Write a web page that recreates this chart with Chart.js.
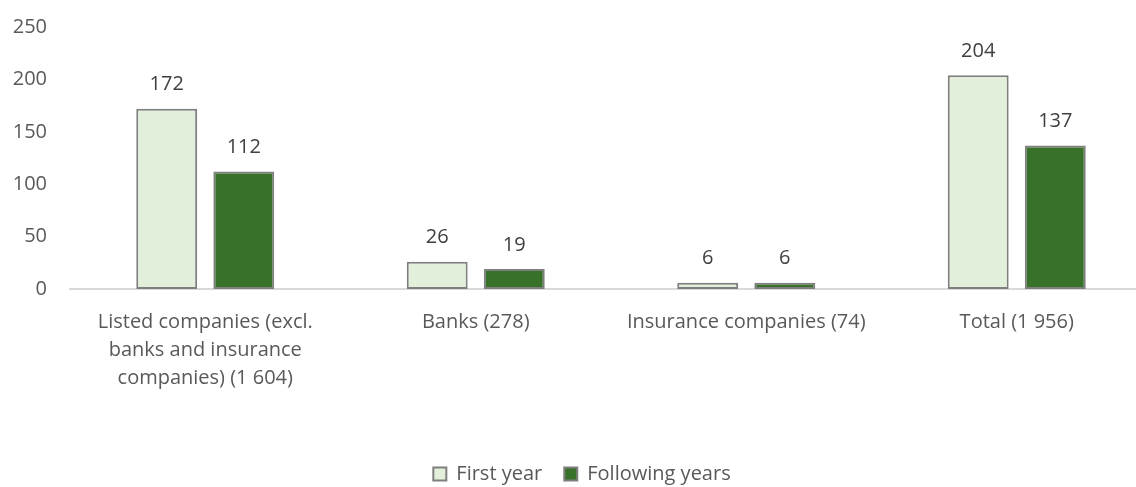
<!DOCTYPE html>
<html>
<head>
<meta charset="utf-8">
<script src="https://cdn.jsdelivr.net/npm/chart.js@4.4.1/dist/chart.umd.min.js"></script>
<style>
  html, body { margin: 0; padding: 0; background: #fff; overflow: hidden; }
  #wrap { width: 1152px; height: 494px; }
</style>
</head>
<body>
<div id="wrap"><canvas id="chart"></canvas></div>
<script>
// categories and values
var categories = [
  ["Listed companies (excl.", "banks and insurance", "companies) (1 604)"],
  "Banks (278)",
  "Insurance companies (74)",
  "Total (1 956)"
];
var firstYear = [172, 26, 6, 204];
var followingYears = [112, 19, 6, 137];
var yTicks = [0, 50, 100, 150, 200, 250];

var FONT = "'Open Sans', sans-serif";

// value labels above each bar
var barValues = {
  id: 'barValues',
  afterDatasetsDraw: function (chart) {
    var ctx = chart.ctx;
    ctx.save();
    ctx.font = '20px ' + FONT;
    ctx.fillStyle = '#404040';
    ctx.textAlign = 'center';
    ctx.textBaseline = 'middle';
    chart.data.datasets.forEach(function (ds, i) {
      chart.getDatasetMeta(i).data.forEach(function (bar, j) {
        ctx.fillText(ds.data[j], bar.x, bar.y - 24);
      });
    });
    ctx.restore();
  }
};

new Chart(document.getElementById('chart'), {
  type: 'bar',
  data: {
    labels: categories,
    datasets: [{
      label: 'First year',
      data: firstYear,
      backgroundColor: '#E2EFDA',
      borderColor: '#7F7F7F',
      borderWidth: 2,
      borderSkipped: false
    }, {
      label: 'Following years',
      data: followingYears,
      backgroundColor: '#38712A',
      borderColor: '#7F7F7F',
      borderWidth: 2,
      borderSkipped: false
    }]
  },
  options: {
    responsive: true,
    maintainAspectRatio: false,
    animation: false,
    layout: { padding: { top: 12, left: 12, right: 0, bottom: 0 } },
    datasets: { bar: { categoryPercentage: 0.57, barPercentage: 0.79 } },
    scales: {
      x: {
        grid: { display: false },
        border: { display: true, color: '#D9D9D9', width: 2 },
        ticks: {
          color: '#595959',
          font: { family: FONT, size: 20, lineHeight: 1.4 },
          padding: 11,
          maxRotation: 0,
          autoSkip: false
        },
        afterFit: function (axis) { axis.height = 153; }
      },
      y: {
        min: 0,
        max: 250,
        grid: { display: false },
        border: { display: false },
        afterBuildTicks: function (axis) {
          axis.ticks = yTicks.map(function (v) { return { value: v }; });
        },
        ticks: {
          color: '#595959',
          font: { family: FONT, size: 20 },
          padding: 15
        },
        afterFit: function (axis) { axis.width = 58; }
      }
    },
    plugins: {
      legend: {
        position: 'bottom',
        labels: {
          color: '#595959',
          font: { family: FONT, size: 20 },
          boxWidth: 13,
          boxHeight: 13,
          padding: 22
        }
      },
      tooltip: { enabled: false }
    }
  },
  plugins: [barValues]
});
</script>
</body>
</html>
